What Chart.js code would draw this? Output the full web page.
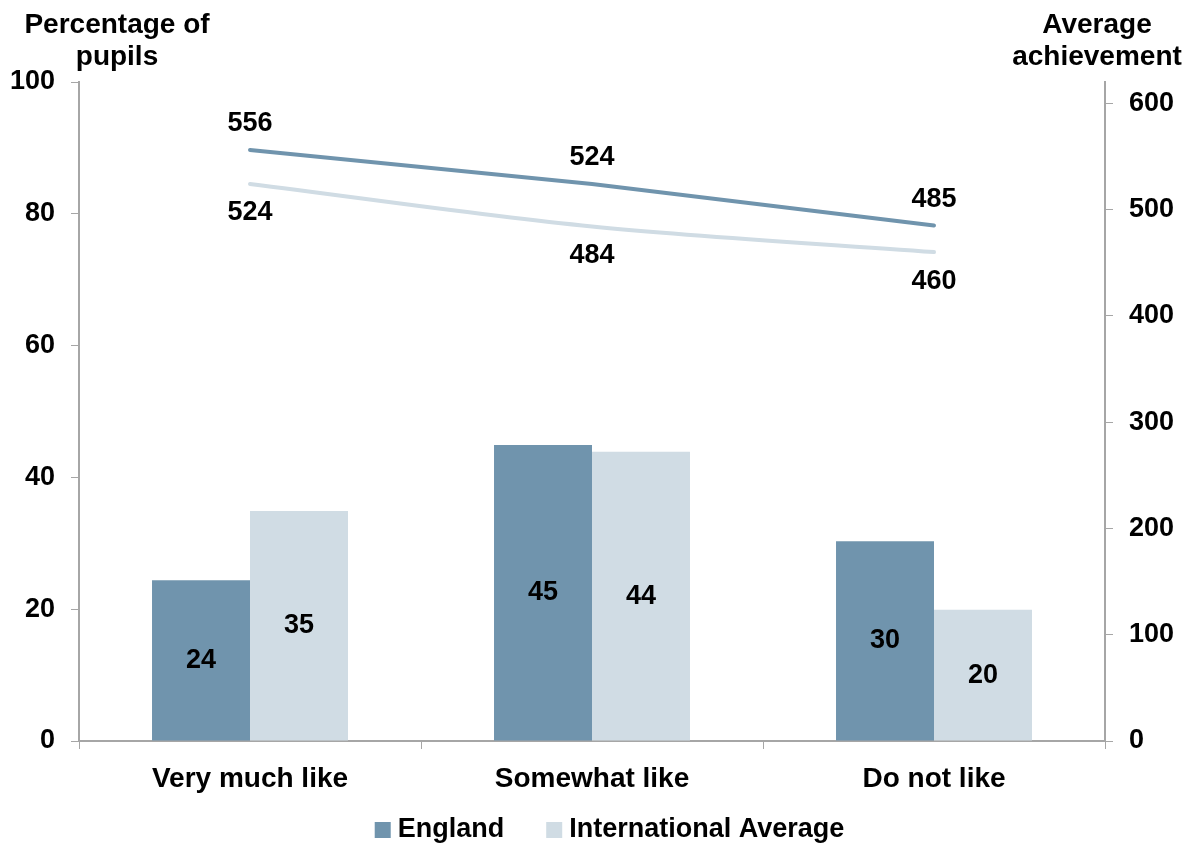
<!DOCTYPE html>
<html>
<head>
<meta charset="utf-8">
<script src="https://cdn.jsdelivr.net/npm/chart.js@4/dist/chart.umd.min.js"></script>
<style>
  html, body { margin: 0; padding: 0; background: #fff; }
  #wrap { width: 1197px; height: 846px; }
</style>
</head>
<body>
<div id="wrap"><canvas id="canvas"></canvas></div>
<script>
// categories and values
var categories = ['Very much like', 'Somewhat like', 'Do not like'];
var englandPct = [24.4, 44.9, 30.3];
var intlPct = [34.9, 43.9, 19.9];
var englandAch = [556, 524, 485];
var intlAch = [524, 484, 460];
var pctTicks = [0, 20, 40, 60, 80, 100];
var achTicks = [0, 100, 200, 300, 400, 500, 600];

var darkBlue = '#7094ad';
var lightBlue = '#d0dce4';
var axisGrey = '#a6a6a6';
var FONT = "'Liberation Sans', Arial, sans-serif";

// draws the numbers on bars and points, the axis titles and the legend
var labelPlugin = {
  id: 'labelPlugin',
  afterDatasetsDraw: function(chart) {
    var ctx = chart.ctx;
    ctx.save();
    ctx.fillStyle = '#000';
    ctx.textAlign = 'center';
    ctx.textBaseline = 'middle';
    ctx.font = 'bold 27px ' + FONT;
    chart.data.datasets.forEach(function(ds, i) {
      var meta = chart.getDatasetMeta(i);
      meta.data.forEach(function(el, j) {
        var v = ds.data[j];
        if (ds.type === 'bar') {
          ctx.fillText(Math.round(v), el.x, (el.y + el.base) / 2);
        } else {
          var off = ds.labelPos === 'above' ? -26 : 29;
          ctx.fillText(v, el.x, el.y + off);
        }
      });
    });
    // axis titles
    ctx.font = 'bold 28px ' + FONT;
    var yl = chart.scales.y, yr = chart.scales.y1;
    ctx.fillText('Percentage of', yl.right + 38, 25);
    ctx.fillText('pupils', yl.right + 38, 57);
    ctx.fillText('Average', yr.left - 8, 25);
    ctx.fillText('achievement', yr.left - 8, 57);

    // legend for the two bar series
    ctx.font = 'bold 27px ' + FONT;
    ctx.textAlign = 'left';
    var items = chart.data.datasets.filter(function(d) { return d.type === 'bar'; });
    var box = 16, gapText = 7, gapItem = 42;
    var total = 0;
    items.forEach(function(d, k) {
      total += box + gapText + ctx.measureText(d.label).width + (k ? gapItem : 0);
    });
    var x = chart.width / 2 + 11 - total / 2;
    var yc = 830;
    items.forEach(function(d) {
      ctx.fillStyle = d.backgroundColor;
      ctx.fillRect(x, yc - box / 2, box, box);
      x += box + gapText;
      ctx.fillStyle = '#000';
      ctx.fillText(d.label, x, yc);
      x += ctx.measureText(d.label).width + gapItem;
    });
    ctx.restore();
  }
};

var config = {
  type: 'bar',
  data: {
    labels: categories,
    datasets: [{
      type: 'line',
      label: 'England achievement',
      data: englandAch,
      yAxisID: 'y1',
      borderColor: darkBlue,
      backgroundColor: darkBlue,
      borderWidth: 4,
      pointRadius: 0,
      borderCapStyle: 'round',
      tension: 0,
      fill: false,
      labelPos: 'above'
    }, {
      type: 'line',
      label: 'International achievement',
      data: intlAch,
      yAxisID: 'y1',
      borderColor: lightBlue,
      backgroundColor: lightBlue,
      borderWidth: 4,
      pointRadius: 0,
      borderCapStyle: 'round',
      cubicInterpolationMode: 'monotone',
      fill: false,
      labelPos: 'below'
    }, {
      type: 'bar',
      label: 'England',
      data: englandPct,
      yAxisID: 'y',
      backgroundColor: darkBlue,
      borderWidth: 0,
      barPercentage: 1.0,
      categoryPercentage: 0.573
    }, {
      type: 'bar',
      label: 'International Average',
      data: intlPct,
      yAxisID: 'y',
      backgroundColor: lightBlue,
      borderWidth: 0,
      barPercentage: 1.0,
      categoryPercentage: 0.573
    }]
  },
  options: {
    responsive: true,
    maintainAspectRatio: false,
    animation: false,
    layout: { padding: { top: 82, left: 0, right: 0, bottom: 43 } },
    plugins: {
      title: { display: false },
      tooltip: { enabled: false },
      legend: { display: false }
    },
    scales: {
      x: {
        grid: { drawOnChartArea: false, drawTicks: true, tickLength: 8, color: axisGrey, offset: true },
        border: { display: true, color: axisGrey, width: 2 },
        ticks: { color: '#000', padding: 13, font: { family: FONT, size: 28, weight: 'bold' }, maxRotation: 0 },
        afterFit: function(scale) { scale.height = 62; }
      },
      y: {
        position: 'left',
        min: 0,
        max: 100,
        afterBuildTicks: function(scale) { scale.ticks = pctTicks.map(function(v) { return { value: v }; }); },
        grid: { drawOnChartArea: false, drawTicks: true, tickLength: 8, color: axisGrey },
        border: { display: true, color: axisGrey, width: 2 },
        ticks: { color: '#000', padding: 16, font: { family: FONT, size: 27, weight: 'bold' } },
        afterFit: function(scale) { scale.width = 79; }
      },
      y1: {
        position: 'right',
        min: 0,
        max: 620,
        afterBuildTicks: function(scale) { scale.ticks = achTicks.map(function(v) { return { value: v }; }); },
        grid: { drawOnChartArea: false, drawTicks: true, tickLength: 8, color: axisGrey },
        border: { display: true, color: axisGrey, width: 2 },
        ticks: { color: '#000', padding: 16, font: { family: FONT, size: 27, weight: 'bold' } },
        afterFit: function(scale) { scale.width = 92; }
      }
    }
  },
  plugins: [labelPlugin]
};

window.onload = function() {
  var ctx = document.getElementById('canvas').getContext('2d');
  window.myChart = new Chart(ctx, config);
};
</script>
</body>
</html>
